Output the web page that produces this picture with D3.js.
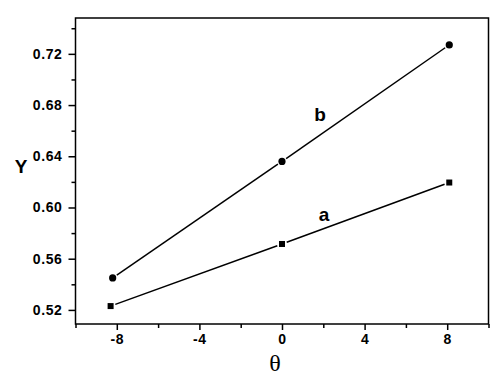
<!DOCTYPE html>
<html>
<head>
<meta charset="utf-8">
<script src="https://cdn.jsdelivr.net/npm/d3@7"></script>
<style>
  body { margin: 0; background: #fff; }
  svg { display: block; }
</style>
</head>
<body>
<div id="chart"></div>
<script>
// data
var thetaA = [-8.3, 0, 8.1];
var valuesA = [0.523, 0.5715, 0.6195];
var thetaB = [-8.2, 0, 8.1];
var valuesB = [0.545, 0.636, 0.727];
var xMajorTicks = [-8, -4, 0, 4, 8];
var xMinorTicks = [-10, -6, -2, 2, 6, 10];
var yMajorTicks = [0.52, 0.56, 0.60, 0.64, 0.68, 0.72];
var yMinorTicks = [0.54, 0.58, 0.62, 0.66, 0.70, 0.74];

var width = 500, height = 375;
// plot box edges (window.top is reserved, so use other names)
var plotLeft = 75.5, plotRight = 488.5, plotTop = 18, plotBottom = 324;

var svg = d3.select("#chart").append("svg")
    .attr("width", width)
    .attr("height", height);

var x = d3.scaleLinear().domain([-10, 10]).range([plotLeft, plotRight]);
var y = d3.scaleLinear().domain([0.509, 0.748]).range([plotBottom, plotTop]);

var font = "Arial, 'Liberation Sans', sans-serif";

// frame
svg.append("rect")
    .attr("x", plotLeft).attr("y", plotTop)
    .attr("width", plotRight - plotLeft).attr("height", plotBottom - plotTop)
    .attr("fill", "none").attr("stroke", "#000").attr("stroke-width", 1.5);

// axes: major ticks with labels, minor without
function styleAxis(g) {
    g.select(".domain").remove();
    g.selectAll("line").attr("stroke", "#000").attr("stroke-width", 1.5);
    g.selectAll("text")
        .attr("font-family", font)
        .attr("font-weight", "bold")
        .attr("font-size", 14)
        .attr("letter-spacing", "0.6px")
        .attr("fill", "#000");
}

svg.append("g")
    .attr("transform", `translate(0,${plotBottom})`)
    .call(d3.axisBottom(x).tickValues(xMajorTicks).tickSize(6).tickPadding(4).tickFormat(d => String(d)))
    .call(styleAxis);
svg.append("g")
    .attr("transform", `translate(0,${plotBottom})`)
    .call(d3.axisBottom(x).tickValues(xMinorTicks).tickSize(4).tickFormat(""))
    .call(styleAxis);

svg.append("g")
    .attr("transform", `translate(${plotLeft},0)`)
    .call(d3.axisLeft(y).tickValues(yMajorTicks).tickSize(7).tickPadding(6).tickFormat(d => d.toFixed(2)))
    .call(styleAxis);
svg.append("g")
    .attr("transform", `translate(${plotLeft},0)`)
    .call(d3.axisLeft(y).tickValues(yMinorTicks).tickSize(4).tickFormat(""))
    .call(styleAxis);

// axis titles
svg.append("text")
    .attr("x", 21).attr("y", 173)
    .attr("text-anchor", "middle")
    .attr("font-family", font).attr("font-weight", "bold").attr("font-size", 19)
    .text("Y");
svg.append("text")
    .attr("x", 275).attr("y", 371)
    .attr("text-anchor", "middle")
    .attr("font-family", "'Liberation Serif', 'Times New Roman', serif").attr("font-size", 24)
    .text("θ");

// connecting segments, stopped short of the markers
function drawSeries(xs, ys, marker) {
    var pts = xs.map((v, i) => [x(v), y(ys[i])]);
    var gap = 5;
    var segs = d3.pairs(pts).map(([p, q]) => {
        var dx = q[0] - p[0], dy = q[1] - p[1];
        var len = Math.sqrt(dx * dx + dy * dy);
        var ux = dx / len, uy = dy / len;
        return [p[0] + ux * gap, p[1] + uy * gap, q[0] - ux * gap, q[1] - uy * gap];
    });
    svg.append("g").selectAll("line")
        .data(segs)
        .join("line")
        .attr("x1", d => d[0]).attr("y1", d => d[1])
        .attr("x2", d => d[2]).attr("y2", d => d[3])
        .attr("stroke", "#000").attr("stroke-width", 1.5);

    if (marker == "circle") {
        svg.append("g").selectAll("circle")
            .data(pts)
            .join("circle")
            .attr("cx", d => d[0]).attr("cy", d => d[1])
            .attr("r", 3.6).attr("fill", "#000");
    } else {
        svg.append("g").selectAll("rect")
            .data(pts)
            .join("rect")
            .attr("x", d => d[0] - 3).attr("y", d => d[1] - 3)
            .attr("width", 6).attr("height", 6).attr("fill", "#000");
    }
}

drawSeries(thetaA, valuesA, "square");
drawSeries(thetaB, valuesB, "circle");

// series labels
svg.append("text")
    .attr("x", 320).attr("y", 121)
    .attr("text-anchor", "middle")
    .attr("font-family", font).attr("font-weight", "bold").attr("font-size", 19)
    .text("b");
svg.append("text")
    .attr("x", 324).attr("y", 221)
    .attr("text-anchor", "middle")
    .attr("font-family", font).attr("font-weight", "bold").attr("font-size", 19)
    .text("a");
</script>
</body>
</html>
